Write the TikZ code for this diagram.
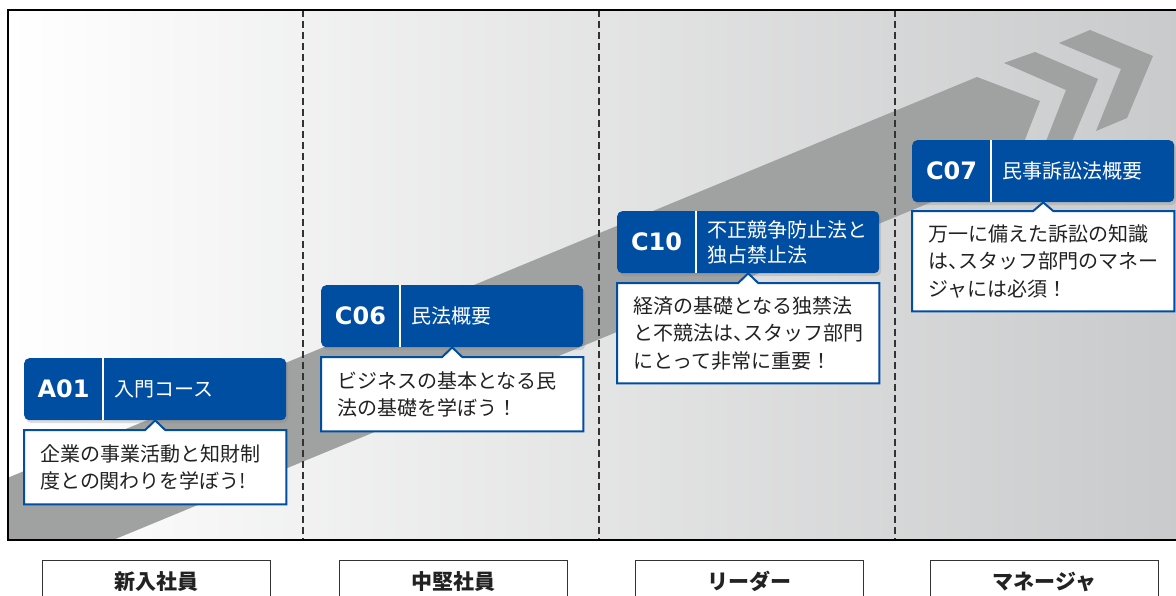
\documentclass[tikz,border=0pt]{standalone}
\usepackage{fontspec}
\setmainfont{Noto Sans CJK JP}
\newfontfamily\codefont{DejaVu Sans}
\usetikzlibrary{calc,shadows}
\definecolor{hdrblue}{RGB}{0,78,162}
\definecolor{bandgray}{RGB}{160,161,161}
\definecolor{bgright}{RGB}{201,202,203}
\definecolor{txtdark}{RGB}{34,34,34}
\definecolor{dashgray}{RGB}{51,51,51}
\tikzset{
 hdr/.style={fill=hdrblue, rounded corners=5pt, minimum width=262pt, minimum height=62pt, inner sep=0pt, anchor=north west,
   drop shadow={shadow xshift=2pt, shadow yshift=-3pt, opacity=0.25}},
 codetxt/.style={text=white, font=\codefont\bfseries\fontsize{24}{28}\selectfont, inner sep=0pt},
 ttl/.style={text=white, font=\fontsize{20}{25}\selectfont, align=left, inner sep=0pt, anchor=west},
 bub/.style={fill=white, minimum width=262pt, inner xsep=16pt, inner ysep=0pt, text width=230pt, align=left,
   anchor=north west, font=\fontsize{20}{27.5}\selectfont, text=txtdark},
 bubline/.style={draw=hdrblue, line width=2pt, line join=miter},
 divline/.style={white, line width=2pt},
 lvl/.style={draw=dashgray, line width=1.2pt, minimum width=228pt, minimum height=42pt, anchor=north west, inner sep=0pt,
   font=\bfseries\fontsize{21}{25}\selectfont, text=txtdark},
 sepline/.style={dashgray, line width=1.3pt, dash pattern=on 7pt off 4pt},
}
\newcommand{\courseblock}[8]{%
 % #1 name, #2 x, #3 y header, #4 code, #5 title, #6 bubble y, #7 bubble height, #8 text
 \node[hdr] (#1h) at (#2,#3) {};
 \node[codetxt] (#1c) at ($(#1h.west)+(39.5,0)$) {#4};
 \draw[divline] ($(#1h.north west)+(79,0)$) -- ($(#1h.south west)+(79,0)$);
 \node[ttl] (#1t) at ($(#1h.west)+(90,0)$) {#5};
 \node[bub, minimum height=#7pt] (#1b) at (#2,#6) {#8};
 \fill[white] ($(#1b.north)+(-10,0)$) -- (#1h.south) -- ($(#1b.north)+(10,0)$) -- cycle;
 \draw[bubline] (#1b.north west) -- ($(#1b.north)+(-10,0)$) -- (#1h.south) -- ($(#1b.north)+(10,0)$)
   -- (#1b.north east) -- (#1b.south east) -- (#1b.south west) -- cycle;
}
\begin{document}
\begin{tikzpicture}[x=1pt,y=-1pt]
\useasboundingbox (0,0) rectangle (1176,595);
\clip (0,0) rectangle (1176,595);
\fill[white] (0,0) rectangle (1176,595);
% background
\shade[left color=white, right color=bgright] (8,10) rectangle (1180,540);
% band with chevrons
\begin{scope}
 \clip (8,10) rectangle (1180,540);
 \fill[bandgray] (0,481) -- (977,77) -- (1040,101) -- (1014,168) -- (113,540) -- (0,587) -- cycle;
 \fill[bandgray] (1004,63) -- (1035,52) -- (1098,79) -- (1072,141) -- (1041,154) -- (1066,90) -- cycle;
 \fill[bandgray] (1059,43) -- (1090,30) -- (1153,56) -- (1127,118) -- (1096,131) -- (1121,69) -- cycle;
\end{scope}
% dashed separators
\draw[sepline] (303,10) -- (303,540);
\draw[sepline] (599,10) -- (599,540);
\draw[sepline] (895,10) -- (895,540);
% frame
\draw[black, line width=2pt] (8,10) rectangle (1180,540);
% courses
\courseblock{a}{24}{358}{A01}{入門コース}{430}{74}{企業の事業活動と知財制\\度との関わりを学ぼう!}
\courseblock{b}{321}{285}{C06}{民法概要}{357}{74}{ビジネスの基本となる民\\法の基礎を学ぼう！}
\courseblock{c}{617}{211}{C10}{不正競争防止法と\\独占禁止法}{283}{100}{経済の基礎となる独禁法\\と不競法は、\kern-0.5em スタッフ部門\\にとって非常に重要！}
\courseblock{d}{912}{140}{C07}{民事訴訟法概要}{211}{100}{万一に備えた訴訟の知識\\は、\kern-0.5em スタッフ部門のマネー\\ジャには必須！}
% levels
\node[lvl] (l1) at (42,560) {新入社員};
\node[lvl] (l2) at (339,560) {中堅社員};
\node[lvl] (l3) at (635,560) {リーダー};
\node[lvl] (l4) at (930,560) {マネージャ};
\end{tikzpicture}
\end{document}
